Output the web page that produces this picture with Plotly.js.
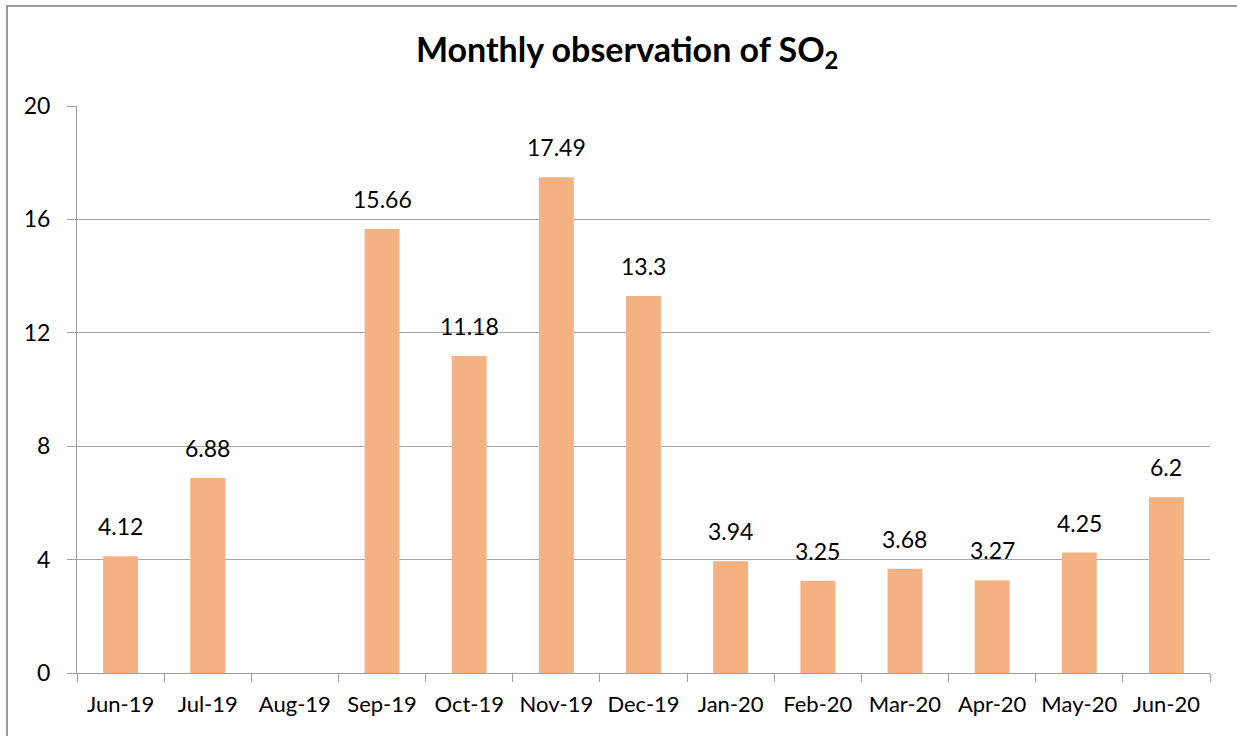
<!DOCTYPE html>
<html><head><meta charset="utf-8">
<script src="https://cdn.plot.ly/plotly-3.0.1.min.js"></script>
<style>html,body{margin:0;padding:0;background:#fff;}#chart{width:1237px;height:736px;}</style>
</head><body><div id="chart"></div>
<script>
const months = ["Jun-19","Jul-19","Aug-19","Sep-19","Oct-19","Nov-19","Dec-19","Jan-20","Feb-20","Mar-20","Apr-20","May-20","Jun-20"];
const so2 = [4.12, 6.88, null, 15.66, 11.18, 17.49, 13.3, 3.94, 3.25, 3.68, 3.27, 4.25, 6.2];
const titleText = "Monthly observation of SO<sub>2</sub>";

const FONT = "Lato, 'Open Sans', sans-serif";
const trace = {
  type: "bar", x: months, y: so2,
  marker: {color: "#F4B183", line: {width: 0}},
  hoverinfo: "none"
};
const annotations = months.map((m, i) => so2[i] === null ? null : {
  x: m, y: so2[i], xref: "x", yref: "y", text: String(so2[i]), showarrow: false,
  yanchor: "bottom", yshift: 14, font: {family: FONT, size: 23, color: "#000"}
}).filter(a => a !== null);

const L = 77, R = 27, T = 106, B = 63, W = 1237, H = 736;
const pw = W - L - R, ph = H - T - B;
const layout = {
  width: W, height: H,
  margin: {l: L, r: R, t: T, b: B, pad: 0},
  paper_bgcolor: "#fff", plot_bgcolor: "#fff",
  showlegend: false, bargap: 0.6,
  title: {text: titleText, font: {family: FONT, size: 34, color: "#000", weight: "bold"},
          xref: "container", x: 0.507, xanchor: "center", yref: "container", y: 1 - 50/H, yanchor: "middle"},
  xaxis: {type: "category", showline: true, linecolor: "#9e9e9e", linewidth: 1, tickangle: 0,
          ticks: "outside", tickson: "boundaries", ticklen: 8, tickcolor: "#9e9e9e", ticklabelstandoff: 12,
          tickfont: {family: FONT, size: 22, color: "#000"}, showgrid: false, zeroline: false, fixedrange: true},
  yaxis: {range: [0, 20], tickvals: [0,4,8,12,16,20], showline: true, linecolor: "#9e9e9e", linewidth: 1,
          ticks: "outside", ticklen: 9, tickcolor: "#9e9e9e", ticklabelstandoff: 12,
          showgrid: true, gridcolor: "#a6a6a6", gridwidth: 1, zeroline: false,
          tickfont: {family: FONT, size: 23, color: "#000"}, fixedrange: true},
  annotations: annotations,
  shapes: [{type: "rect", xref: "paper", yref: "paper",
            x0: (7 - L)/pw, x1: (1300 - L)/pw, y0: (H - T - 800)/ph, y1: (H - B - 6)/ph,
            line: {color: "#9a9a9a", width: 2}, fillcolor: "rgba(0,0,0,0)", layer: "below"}]
};
Plotly.newPlot("chart", [trace], layout, {displayModeBar: false, staticPlot: true});
</script></body></html>
